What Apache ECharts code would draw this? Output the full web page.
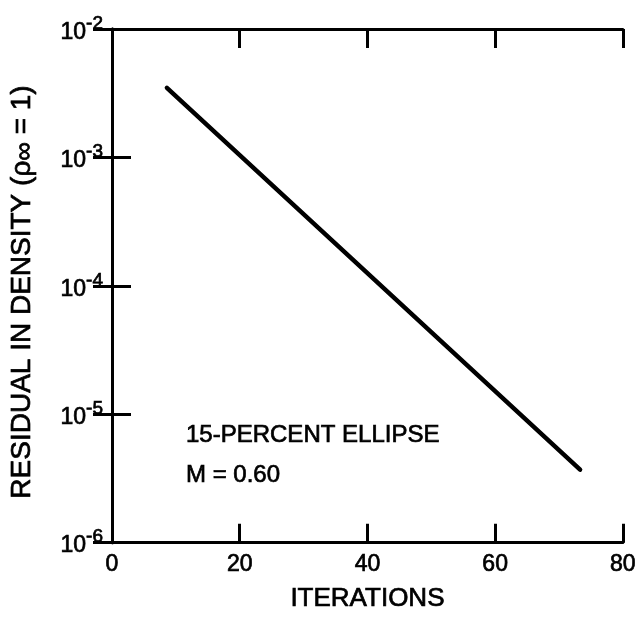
<!DOCTYPE html>
<html>
<head>
<meta charset="utf-8">
<script src="https://cdn.jsdelivr.net/npm/echarts@6/dist/echarts.min.js"></script>
<style>
  html, body { margin: 0; padding: 0; background: #fff; }
  #chart { width: 639px; height: 617px; }
</style>
</head>
<body>
<div id="chart"></div>
<script>
// Convergence history: residual in density versus iteration count
const xTicks = [0, 20, 40, 60, 80];
const yExponents = [-6, -5, -4, -3, -2];
const iterations = [8.6, 73.3];
const residual = [3.48e-3, 3.7e-6];
const caseLabel = '15-PERCENT ELLIPSE';
const machLabel = 'M = 0.60';

const FONT = '"Liberation Sans", Arial, Helvetica, sans-serif';
const INK = '#000';
// a hairline outline gives the lettering a slightly heavier weight
const HEAVY = { textBorderColor: INK, textBorderWidth: 0.7 };

const chart = echarts.init(document.getElementById('chart'));

const tickStyle = { show: true, inside: true, length: 19, lineStyle: { color: INK, width: 3 } };
const lineStyle = { show: true, lineStyle: { color: INK, width: 3 } };

function powerLabel(v) {
  const e = Math.round(Math.log10(v));
  const exp = yExponents.find(k => k === e);
  return '{b|10}{s|' + exp + '}';
}

chart.setOption({
  animation: false,
  backgroundColor: '#fff',
  grid: { left: 112, right: 13, top: 29, bottom: 69 },
  xAxis: [
    {
      type: 'value',
      position: 'bottom',
      min: xTicks[0],
      max: xTicks[xTicks.length - 1],
      interval: xTicks[1] - xTicks[0],
      axisLine: lineStyle,
      axisTick: tickStyle,
      splitLine: { show: false },
      axisLabel: Object.assign({ color: INK, fontSize: 23, fontFamily: FONT, margin: 11 }, HEAVY),
      name: 'ITERATIONS',
      nameLocation: 'middle',
      nameGap: 43,
      nameTextStyle: Object.assign({ color: INK, fontSize: 26, fontFamily: FONT }, HEAVY)
    },
    {
      type: 'value',
      position: 'top',
      min: xTicks[0],
      max: xTicks[xTicks.length - 1],
      interval: xTicks[1] - xTicks[0],
      axisLine: lineStyle,
      axisTick: tickStyle,
      axisLabel: { show: false },
      splitLine: { show: false }
    }
  ],
  yAxis: [
    {
      type: 'log',
      logBase: 10,
      position: 'left',
      min: Math.pow(10, yExponents[0]),
      max: Math.pow(10, yExponents[yExponents.length - 1]),
      axisLine: lineStyle,
      axisTick: tickStyle,
      minorTick: { show: false },
      splitLine: { show: false },
      axisLabel: {
        margin: 9,
        formatter: powerLabel,
        rich: {
          b: Object.assign({ color: INK, fontSize: 23, fontFamily: FONT, lineHeight: 30, verticalAlign: 'bottom' }, HEAVY),
          s: Object.assign({ color: INK, fontSize: 19, fontFamily: FONT, lineHeight: 12, verticalAlign: 'top' }, HEAVY)
        }
      }
    },
    {
      type: 'log',
      logBase: 10,
      position: 'right',
      min: Math.pow(10, yExponents[0]),
      max: Math.pow(10, yExponents[yExponents.length - 1]),
      axisLine: lineStyle,
      axisTick: tickStyle,
      minorTick: { show: false },
      axisLabel: { show: false },
      splitLine: { show: false }
    }
  ],
  series: [
    {
      type: 'line',
      xAxisIndex: 0,
      yAxisIndex: 0,
      data: iterations.map((x, i) => [x, residual[i]]),
      showSymbol: false,
      symbol: 'none',
      lineStyle: { color: INK, width: 4.5, cap: 'round' },
      silent: true
    }
  ],
  graphic: [
    {
      type: 'text',
      x: 186,
      y: 435,
      style: { text: caseLabel, fill: INK, stroke: INK, lineWidth: 0.7, font: '24px ' + FONT, verticalAlign: 'middle' }
    },
    {
      type: 'text',
      x: 186,
      y: 475,
      style: { text: machLabel, fill: INK, stroke: INK, lineWidth: 0.7, font: '24px ' + FONT, verticalAlign: 'middle' }
    },
    {
      type: 'text',
      x: 23,
      y: 292,
      rotation: Math.PI / 2,
      style: {
        text: '{t|RESIDUAL IN DENSITY (ρ}{u|∞}{t| = 1)}',
        align: 'center',
        verticalAlign: 'middle',
        rich: {
          t: { fill: INK, stroke: INK, lineWidth: 0.7, fontSize: 28, fontFamily: FONT, lineHeight: 30, verticalAlign: 'top' },
          u: { fill: INK, stroke: INK, lineWidth: 0.7, fontSize: 26, fontFamily: FONT, lineHeight: 14, verticalAlign: 'bottom' }
        }
      }
    }
  ]
});
</script>
</body>
</html>
